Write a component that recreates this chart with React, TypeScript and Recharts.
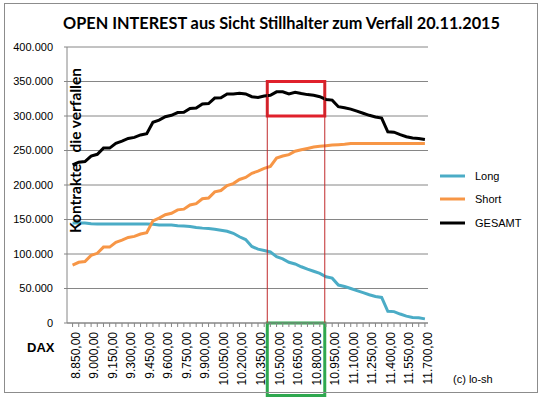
import React from 'react';
import { LineChart, Line, XAxis, YAxis, CartesianGrid, ReferenceLine, ReferenceArea, Legend } from 'recharts';

const strikes = [8850, 8900, 8950, 9000, 9050, 9100, 9150, 9200, 9250, 9300, 9350, 9400, 9450, 9500, 9550, 9600, 9650, 9700, 9750, 9800, 9850, 9900, 9950, 10000, 10050, 10100, 10150, 10200, 10250, 10300, 10350, 10400, 10450, 10500, 10550, 10600, 10650, 10700, 10750, 10800, 10850, 10900, 10950, 11000, 11050, 11100, 11150, 11200, 11250, 11300, 11350, 11400, 11450, 11500, 11550, 11600, 11650, 11700];

const labelStrikes = [8850, 9000, 9150, 9300, 9450, 9600, 9750, 9900, 10050, 10200, 10350, 10500, 10650, 10800, 10950, 11100, 11250, 11400, 11550, 11700];

const longValues = [145000, 145000, 145000, 144000, 143500, 143500, 143500, 143500, 143500, 143500, 143500, 143500, 143500, 143000, 142000, 142000, 142000, 141000, 140500, 140000, 138500, 137500, 137000, 136000, 134500, 133000, 130000, 125000, 121000, 111000, 107000, 105000, 103000, 96000, 93000, 88000, 85500, 81500, 78000, 75000, 72000, 67000, 65000, 55000, 53000, 50000, 47000, 44000, 41000, 38500, 37000, 17000, 16500, 13000, 10000, 8000, 7500, 6000];

const shortValues = [84000, 88000, 89000, 98000, 101000, 110000, 110000, 117000, 120000, 124000, 125500, 129000, 131000, 148000, 152000, 157000, 159000, 164000, 165000, 171000, 173000, 180000, 181000, 190000, 192000, 199000, 202000, 208000, 211000, 217000, 220000, 224000, 227000, 239000, 242000, 244000, 249000, 251000, 253000, 255000, 256000, 257000, 258000, 258500, 259000, 260000, 260000, 260000, 260000, 260000, 260000, 260000, 260000, 260000, 260000, 260000, 260000, 260000];

const gesamtValues = [229000, 233000, 234000, 242000, 244500, 253500, 253500, 260500, 263500, 267500, 269000, 272500, 274500, 291000, 294000, 299000, 301000, 305000, 305500, 311000, 311500, 317500, 318000, 326000, 326500, 332000, 332000, 333000, 332000, 328000, 327000, 329000, 330000, 335000, 335000, 332000, 334500, 332500, 331000, 330000, 328000, 324000, 323000, 313500, 312000, 310000, 307000, 304000, 301000, 298500, 297000, 277000, 276500, 273000, 270000, 268000, 267500, 266000];

const yTicks = [0, 50000, 100000, 150000, 200000, 250000, 300000, 350000, 400000];

const seriesNames = ['Long', 'Short', 'GESAMT'];
const seriesColors = ['#4BACC6', '#F79646', '#000000'];

const titleText = 'OPEN INTEREST aus Sicht Stillhalter zum Verfall 20.11.2015';
const yAxisTitle = 'Kontrakte   die verfallen';
const xAxisTitle = 'DAX';
const creditText = '(c) lo-sh';

// highlighted strike window
const windowFrom = 10425;
const windowTo = 10890;
const boxLow = 300000;
const boxHigh = 350000;
const greenLow = -105000;

const rows = strikes.map((s, i) => ({
  strike: s,
  Long: longValues[i],
  Short: shortValues[i],
  GESAMT: gesamtValues[i],
}));

const group = (n: number) => String(n).replace(/\B(?=(\d{3})+(?!\d))/g, '.');
const fmtY = (v: number) => group(v);
const fmtX = (v: number) => group(v) + ',00';

const SANS = '"Liberation Sans", Arial, sans-serif';
const GRID = '#868686';

const XTick = (props: any) => {
  const { x, y, payload } = props;
  if (!labelStrikes.includes(payload.value)) return <g />;
  return (
    <text
      transform={`translate(${x + 3},${y}) rotate(-90)`}
      textAnchor="end"
      dominantBaseline="central"
      fontSize={12}
      fontFamily={SANS}
      fill="#000"
    >
      {fmtX(payload.value)}
    </text>
  );
};

const renderLegend = () => (
  <div style={{ fontFamily: SANS, fontSize: 11, color: '#000' }}>
    {seriesNames.map((name, i) => (
      <div key={name} style={{ display: 'flex', alignItems: 'center', height: 23.5 }}>
        <svg width={38} height={6} style={{ display: 'block' }}>
          <line x1={3} y1={3} x2={28} y2={3} stroke={seriesColors[i]} strokeWidth={3} />
        </svg>
        <span>{name}</span>
      </div>
    ))}
  </div>
);

export default function App() {
  return (
    <div style={{ position: 'absolute', left: 0, top: 0, width: 548, height: 399, background: '#fff' }}>
      <LineChart width={548} height={399} data={rows} margin={{ top: 47, right: 120, bottom: 0, left: 0 }}>
        <CartesianGrid horizontal vertical={false} stroke={GRID} />
        <XAxis
          dataKey="strike"
          type="number"
          domain={[8805, 11725]}
          ticks={strikes}
          interval={0}
          tick={<XTick />}
          tickSize={4}
          tickMargin={5}
          height={76}
          stroke={GRID}
          tickLine={{ stroke: GRID }}
          allowDataOverflow
        />
        <YAxis
          domain={[0, 400000]}
          ticks={yTicks}
          interval={0}
          width={67}
          tickSize={3}
          tickMargin={11}
          tickFormatter={fmtY}
          stroke={GRID}
          tick={{ fill: '#000', fontSize: 11, fontFamily: SANS }}
        />
        {seriesNames.map((name, i) => (
          <Line
            key={name}
            dataKey={name}
            type="linear"
            stroke={seriesColors[i]}
            strokeWidth={3}
            dot={false}
            isAnimationActive={false}
          />
        ))}
        <ReferenceLine segment={[{ x: windowFrom, y: 0 }, { x: windowFrom, y: boxHigh }]} stroke="#C0292B" strokeWidth={1} />
        <ReferenceLine segment={[{ x: windowTo, y: 0 }, { x: windowTo, y: boxHigh }]} stroke="#C0292B" strokeWidth={1} />
        <ReferenceArea x1={windowFrom} x2={windowTo} y1={boxLow} y2={boxHigh} fill="none" fillOpacity={0} stroke="#E0202B" strokeWidth={3} />
        <ReferenceArea x1={windowFrom} x2={windowTo} y1={greenLow} y2={0} ifOverflow="visible" fill="none" fillOpacity={0} stroke="#2FA84F" strokeWidth={3} />
        <Legend
          layout="vertical"
          align="center"
          verticalAlign="middle"
          content={renderLegend}
          wrapperStyle={{ left: 437, top: 164, width: 105 }}
        />
      </LineChart>
      <svg width={548} height={399} style={{ position: 'absolute', left: 0, top: 0, pointerEvents: 'none' }}>
        <rect x={4.5} y={3.5} width={533} height={389} fill="none" stroke="#8c8c8c" />
        <text x={281.5} y={29} textAnchor="middle" fontFamily="Lato, sans-serif" fontWeight="bold" fontSize={16.3} fill="#000">
          {titleText}
        </text>
        <text
          transform="translate(81,150.5) rotate(-90)"
          textAnchor="middle"
          fontFamily="Lato, sans-serif"
          fontWeight="bold"
          fontSize={15.5}
          fill="#000"
          style={{ whiteSpace: 'pre' }}
        >
          {yAxisTitle}
        </text>
        <text x={27} y={352} fontFamily={SANS} fontWeight="bold" fontSize={13} fill="#000">{xAxisTitle}</text>
        <text x={453} y={383} fontFamily={SANS} fontSize={11} fill="#000">{creditText}</text>
      </svg>
    </div>
  );
}
